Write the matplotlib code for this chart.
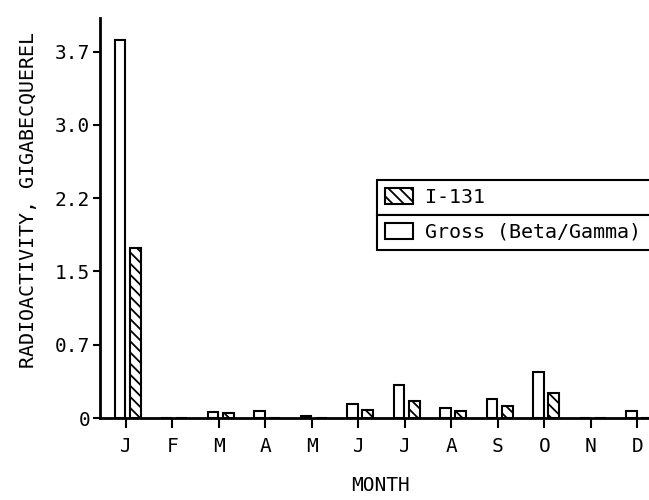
import numpy as np
import matplotlib
matplotlib.use("Agg")
import matplotlib.pyplot as plt
from matplotlib.patches import Patch

plt.rcParams['font.family'] = ['DejaVu Sans Mono']
plt.rcParams['hatch.linewidth'] = 1.3

months = ['J', 'F', 'M', 'A', 'M', 'J', 'J', 'A', 'S', 'O', 'N', 'D']
gross = [3.82, 0, 0.06, 0.07, 0.02, 0.14, 0.33, 0.10, 0.19, 0.46, 0, 0.07]
i131 = [1.72, 0, 0.05, 0, 0, 0.08, 0.17, 0.07, 0.12, 0.25, 0, 0]
ytick_vals = [0, 0.74, 1.48, 2.22, 2.96, 3.7]
ytick_labels = ['0', '0.7', '1.5', '2.2', '3.0', '3.7']

fig = plt.figure(figsize=(6.49, 5), dpi=100)
ax = fig.add_axes([0.154, 0.164, 0.864, 0.8])

x = np.arange(len(months))
w = 0.23
ax.bar(x - 0.13, gross, w, facecolor='white', edgecolor='black', linewidth=1.5)
ax.bar(x + 0.2, i131, w, facecolor='white', edgecolor='black', linewidth=1.5,
       hatch='\\\\\\')

ax.set_xlim(-0.56, 11.5)
ax.set_ylim(0, 4.04)
ax.set_xticks(x)
ax.set_xticklabels(months, fontsize=14)
ax.set_yticks(ytick_vals)
ax.set_yticklabels(ytick_labels, fontsize=14)
ax.tick_params(axis='x', length=7, width=1.5, pad=7)
ax.tick_params(axis='y', length=5, width=1.5, pad=2)
for s in ['top', 'right']:
    ax.spines[s].set_visible(False)
for s in ['left', 'bottom']:
    ax.spines[s].set_linewidth(2)

ax.set_xlabel('MONTH', fontsize=14, labelpad=14)
ax.set_ylabel('RADIOACTIVITY, GIGABECQUEREL', fontsize=14.4)
ax.yaxis.set_label_coords(-0.11, 0.545)

# legend as two stacked boxes
h1 = Patch(facecolor='white', edgecolor='black', hatch='\\\\\\', linewidth=1.5)
h2 = Patch(facecolor='white', edgecolor='black', linewidth=1.5)
kw = dict(mode='expand', bbox_transform=fig.transFigure, fancybox=False,
          edgecolor='black', framealpha=1, fontsize=14.4, borderaxespad=0,
          handlelength=1.4, handleheight=0.8, handletextpad=0.6, borderpad=0.4)
leg1 = ax.legend([h1], ['I-131'], loc='lower left',
                 bbox_to_anchor=(0.581, 0.57, 0.45, 0.07), **kw)
leg1.get_frame().set_linewidth(1.5)
ax.add_artist(leg1)
leg2 = ax.legend([h2], ['Gross (Beta/Gamma)'], loc='upper left',
                 bbox_to_anchor=(0.581, 0.497, 0.45, 0.073), **kw)
leg2.get_frame().set_linewidth(1.5)

fig.savefig('out.png', dpi=100)
